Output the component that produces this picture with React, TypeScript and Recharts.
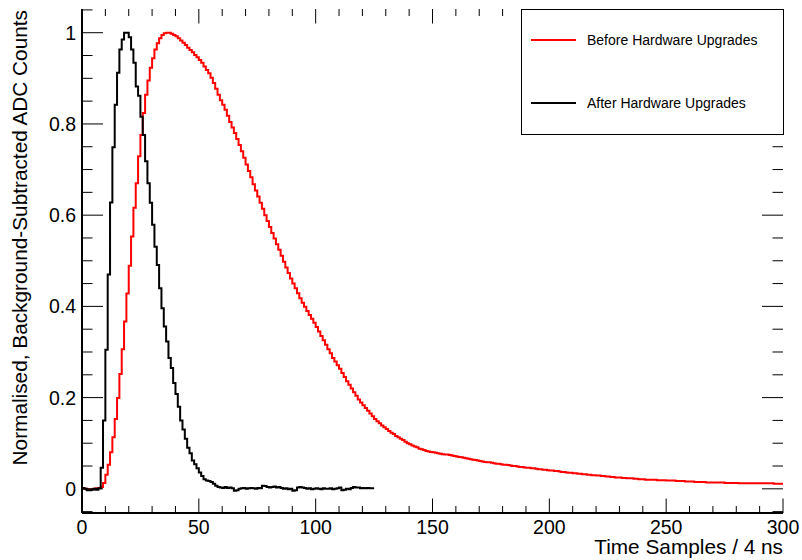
import React from 'react';
import { LineChart, Line, XAxis, YAxis } from 'recharts';

// Bin contents (bin i covers [i, i+1])
const RED: number[] = [
  0.001, 0.000, -0.001, -0.002, -0.001, 0.000, 0.001, 0.002, 0.004, 0.013,
  0.031, 0.053, 0.080, 0.113, 0.153, 0.199, 0.252, 0.306, 0.367, 0.428,
  0.489, 0.553, 0.616, 0.670, 0.729, 0.776, 0.824, 0.864, 0.895, 0.923,
  0.944, 0.963, 0.977, 0.988, 0.995, 0.999, 1.000, 1.000, 0.998, 0.995,
  0.992, 0.988, 0.983, 0.978, 0.973, 0.967, 0.962, 0.957, 0.951, 0.946,
  0.940, 0.934, 0.926, 0.918, 0.911, 0.901, 0.890, 0.877, 0.864, 0.852,
  0.842, 0.831, 0.818, 0.804, 0.792, 0.780, 0.767, 0.754, 0.740, 0.726,
  0.711, 0.697, 0.683, 0.668, 0.654, 0.641, 0.627, 0.614, 0.600, 0.587,
  0.574, 0.561, 0.549, 0.536, 0.524, 0.511, 0.498, 0.485, 0.473, 0.461,
  0.450, 0.440, 0.429, 0.418, 0.408, 0.399, 0.390, 0.381, 0.373, 0.364,
  0.355, 0.345, 0.335, 0.326, 0.316, 0.306, 0.297, 0.287, 0.279, 0.271,
  0.263, 0.254, 0.245, 0.236, 0.228, 0.220, 0.212, 0.204, 0.196, 0.189,
  0.183, 0.177, 0.171, 0.165, 0.159, 0.153, 0.148, 0.144, 0.139, 0.135,
  0.131, 0.127, 0.123, 0.120, 0.116, 0.113, 0.110, 0.107, 0.103, 0.100,
  0.098, 0.095, 0.093, 0.091, 0.088, 0.087, 0.085, 0.083, 0.082, 0.081,
  0.080, 0.079, 0.078, 0.077, 0.076, 0.075, 0.075, 0.074, 0.073, 0.072,
  0.071, 0.070, 0.069, 0.068, 0.067, 0.066, 0.065, 0.064, 0.063, 0.062,
  0.061, 0.060, 0.059, 0.058, 0.058, 0.057, 0.056, 0.055, 0.055, 0.054,
  0.053, 0.053, 0.052, 0.051, 0.050, 0.050, 0.049, 0.048, 0.048, 0.047,
  0.046, 0.046, 0.045, 0.045, 0.044, 0.043, 0.043, 0.042, 0.042, 0.041,
  0.040, 0.040, 0.039, 0.039, 0.038, 0.037, 0.037, 0.036, 0.035, 0.035,
  0.034, 0.034, 0.033, 0.033, 0.032, 0.032, 0.031, 0.031, 0.030, 0.030,
  0.029, 0.029, 0.028, 0.028, 0.027, 0.027, 0.026, 0.026, 0.025, 0.025,
  0.025, 0.024, 0.024, 0.023, 0.023, 0.023, 0.022, 0.022, 0.021, 0.021,
  0.021, 0.020, 0.020, 0.020, 0.020, 0.020, 0.019, 0.019, 0.019, 0.019,
  0.018, 0.018, 0.018, 0.018, 0.017, 0.017, 0.017, 0.017, 0.016, 0.016,
  0.016, 0.016, 0.015, 0.015, 0.015, 0.015, 0.015, 0.014, 0.014, 0.014,
  0.014, 0.014, 0.014, 0.014, 0.014, 0.013, 0.013, 0.013, 0.013, 0.013,
  0.013, 0.012, 0.012, 0.012, 0.012, 0.012, 0.012, 0.012, 0.012, 0.012,
  0.012, 0.012, 0.012, 0.012, 0.012, 0.012, 0.011, 0.011, 0.011, 0.011,
];

const BLACK: number[] = [
  0.002, 0.000, -0.003, -0.003, -0.002, 0.000, -0.002, 0.001, 0.046, 0.150,
  0.305, 0.470, 0.628, 0.749, 0.842, 0.912, 0.963, 0.985, 1.000, 1.000,
  0.990, 0.963, 0.934, 0.882, 0.862, 0.816, 0.776, 0.718, 0.670, 0.627,
  0.579, 0.531, 0.491, 0.440, 0.396, 0.356, 0.323, 0.287, 0.265, 0.232,
  0.208, 0.180, 0.150, 0.130, 0.110, 0.090, 0.078, 0.062, 0.054, 0.045,
  0.036, 0.028, 0.021, 0.018, 0.017, 0.015, 0.011, 0.007, 0.004, 0.003,
  0.002, 0.004, 0.002, 0.003, 0.001, -0.004, -0.003, 0.000, 0.001, 0.002,
  0.000, 0.001, 0.002, 0.001, 0.000, 0.002, 0.001, 0.007, 0.006, 0.004,
  0.003, 0.004, 0.005, 0.003, 0.004, 0.002, 0.000, 0.001, -0.001, 0.000,
  -0.004, -0.003, 0.003, 0.004, 0.003, 0.002, 0.000, 0.001, -0.001, 0.000,
  0.001, 0.000, -0.001, 0.001, 0.000, 0.000, 0.001, -0.001, 0.000, 0.001,
  0.003, -0.003, -0.002, 0.000, -0.001, 0.002, 0.004, 0.003, 0.003, 0.001,
  0.002, 0.001, 0.002, 0.001, 0.001,
];

const X_TICKS = [0, 10, 20, 30, 40, 50, 60, 70, 80, 90, 100, 110, 120, 130, 140, 150, 160, 170, 180, 190, 200,
  210, 220, 230, 240, 250, 260, 270, 280, 290, 300];
const X_LABELS = [0, 50, 100, 150, 200, 250, 300];
const Y_TICKS = [-0.05, 0, 0.05, 0.1, 0.15, 0.2, 0.25, 0.3, 0.35, 0.4, 0.45, 0.5, 0.55, 0.6, 0.65, 0.7, 0.75,
  0.8, 0.85, 0.9, 0.95, 1, 1.05];
const Y_LABELS = [0, 0.2, 0.4, 0.6, 0.8, 1];
const X_DOMAIN: [number, number] = [0, 300];
const Y_DOMAIN: [number, number] = [-0.053, 1.052];

const SERIES = [
  { key: 'red', name: 'Before Hardware Upgrades', color: '#ff0000' },
  { key: 'black', name: 'After Hardware Upgrades', color: '#000000' },
];

const X_TITLE = 'Time Samples / 4 ns';
const Y_TITLE = 'Normalised, Background-Subtracted ADC Counts';

const FONT = '"Liberation Sans", Arial, Helvetica, sans-serif';

// layout
const CHART_W = 802;
const CHART_H = 560;
const M_TOP = 9;
const M_RIGHT = 19;
const Y_AXIS_W = 82;
const X_AXIS_H = 47;
const PLOT_L = Y_AXIS_W;
const PLOT_T = M_TOP;
const PLOT_W = CHART_W - M_RIGHT - Y_AXIS_W;
const PLOT_H = CHART_H - M_TOP - X_AXIS_H;

// inward frame tick lengths (px)
const X_MINOR = 7;
const X_MAJOR = 14.5;
const Y_MINOR = 10.5;
const Y_MAJOR = 21;

const data: any[] = [];
for (let i = 0; i <= X_DOMAIN[1]; i++) {
  data.push({
    x: i,
    red: i < RED.length ? RED[i] : RED[RED.length - 1],
    black: i < BLACK.length ? BLACK[i] : i === BLACK.length ? BLACK[BLACK.length - 1] : null,
  });
}

// frame-tick placement follows the same linear axes as the chart's plot area
const tickX = (v: number) => PLOT_L + ((v - X_DOMAIN[0]) / (X_DOMAIN[1] - X_DOMAIN[0])) * PLOT_W;
const tickY = (v: number) => PLOT_T + ((Y_DOMAIN[1] - v) / (Y_DOMAIN[1] - Y_DOMAIN[0])) * PLOT_H;

const FrameTicks = () => {
  const bottom = PLOT_T + PLOT_H;
  const right = PLOT_L + PLOT_W;
  const parts: string[] = [];
  X_TICKS.forEach((v) => {
    const x = tickX(v);
    const len = X_LABELS.includes(v) ? X_MAJOR : X_MINOR;
    parts.push(`M${x},${bottom}V${bottom - len}`, `M${x},${PLOT_T}V${PLOT_T + len}`);
  });
  Y_TICKS.forEach((v) => {
    const y = tickY(v);
    const len = Y_LABELS.includes(v) ? Y_MAJOR : Y_MINOR;
    parts.push(`M${PLOT_L},${y}H${PLOT_L + len}`, `M${right},${y}H${right - len}`);
  });
  return (
    <svg
      width={CHART_W}
      height={CHART_H}
      style={{ position: 'absolute', left: 0, top: 0, pointerEvents: 'none' }}
    >
      <path d={parts.join('')} stroke="#000" strokeWidth={1} fill="none" />
    </svg>
  );
};

const BottomLabel = (props: any) => {
  const { x, y, payload } = props;
  if (!X_LABELS.includes(payload.value)) return <g />;
  return (
    <text x={x} y={y + 21} textAnchor="middle" fontSize={19.5} fontFamily={FONT} fill="#000">
      {payload.value}
    </text>
  );
};

const LeftLabel = (props: any) => {
  const { x, y, payload } = props;
  if (!Y_LABELS.includes(payload.value)) return <g />;
  return (
    <text x={x - 6} y={y} dy="0.36em" textAnchor="end" fontSize={19.5} fontFamily={FONT} fill="#000">
      {String(payload.value)}
    </text>
  );
};

const XTitle = (props: any) => {
  const vb = props.viewBox;
  return (
    <text x={vb.x + vb.width} y={vb.y + 41} textAnchor="end" fontSize={20.8} fontFamily={FONT} fill="#000">
      {X_TITLE}
    </text>
  );
};

const YTitle = (props: any) => {
  const vb = props.viewBox;
  const tx = vb.x + 27;
  const ty = vb.y + 1;
  return (
    <text x={tx} y={ty} transform={`rotate(-90, ${tx}, ${ty})`} textAnchor="end" fontSize={20.8} fontFamily={FONT} fill="#000">
      {Y_TITLE}
    </text>
  );
};

const AXIS_LINE = { stroke: '#000', strokeWidth: 2 };

export default function App() {
  return (
    <div style={{ position: 'absolute', left: 0, top: 0, width: CHART_W, height: CHART_H, background: '#fff' }}>
      <LineChart width={CHART_W} height={CHART_H} data={data} margin={{ top: M_TOP, right: M_RIGHT, bottom: 0, left: 0 }}>
        <XAxis
          dataKey="x"
          type="number"
          domain={X_DOMAIN}
          ticks={X_TICKS}
          interval={0}
          height={X_AXIS_H}
          tickSize={0}
          tickMargin={0}
          tickLine={false}
          axisLine={AXIS_LINE}
          tick={<BottomLabel />}
          label={<XTitle />}
          allowDataOverflow
        />
        <XAxis
          xAxisId="top"
          orientation="top"
          dataKey="x"
          type="number"
          domain={X_DOMAIN}
          height={0}
          tick={false}
          tickLine={false}
          axisLine={AXIS_LINE}
          allowDataOverflow
        />
        <YAxis
          type="number"
          domain={Y_DOMAIN}
          ticks={Y_TICKS}
          interval={0}
          width={Y_AXIS_W}
          tickSize={0}
          tickMargin={0}
          tickLine={false}
          axisLine={AXIS_LINE}
          tick={<LeftLabel />}
          label={<YTitle />}
          allowDataOverflow
        />
        <YAxis
          yAxisId="right"
          orientation="right"
          type="number"
          domain={Y_DOMAIN}
          width={0}
          tick={false}
          tickLine={false}
          axisLine={AXIS_LINE}
          allowDataOverflow
        />
        {SERIES.map((s) => (
          <Line
            key={s.key}
            type="stepAfter"
            dataKey={s.key}
            stroke={s.color}
            strokeWidth={2}
            strokeLinejoin="miter"
            strokeLinecap="butt"
            dot={false}
            activeDot={false}
            isAnimationActive={false}
            connectNulls={false}
          />
        ))}
      </LineChart>
      <FrameTicks />
      <div
        style={{
          position: 'absolute',
          left: 521,
          top: 9,
          width: 263,
          height: 126,
          border: '1px solid #000',
          background: '#fff',
          boxSizing: 'border-box',
          fontFamily: FONT,
        }}
      >
        {SERIES.map((s, i) => (
          <div
            key={s.key}
            style={{
              position: 'absolute',
              left: 9,
              top: 20 + i * 63,
              height: 20,
              display: 'flex',
              alignItems: 'center',
              whiteSpace: 'nowrap',
            }}
          >
            <span style={{ display: 'inline-block', width: 45, height: 2, background: s.color }} />
            <span style={{ marginLeft: 11, fontSize: 14, color: '#000', lineHeight: '20px' }}>{s.name}</span>
          </div>
        ))}
      </div>
    </div>
  );
}
